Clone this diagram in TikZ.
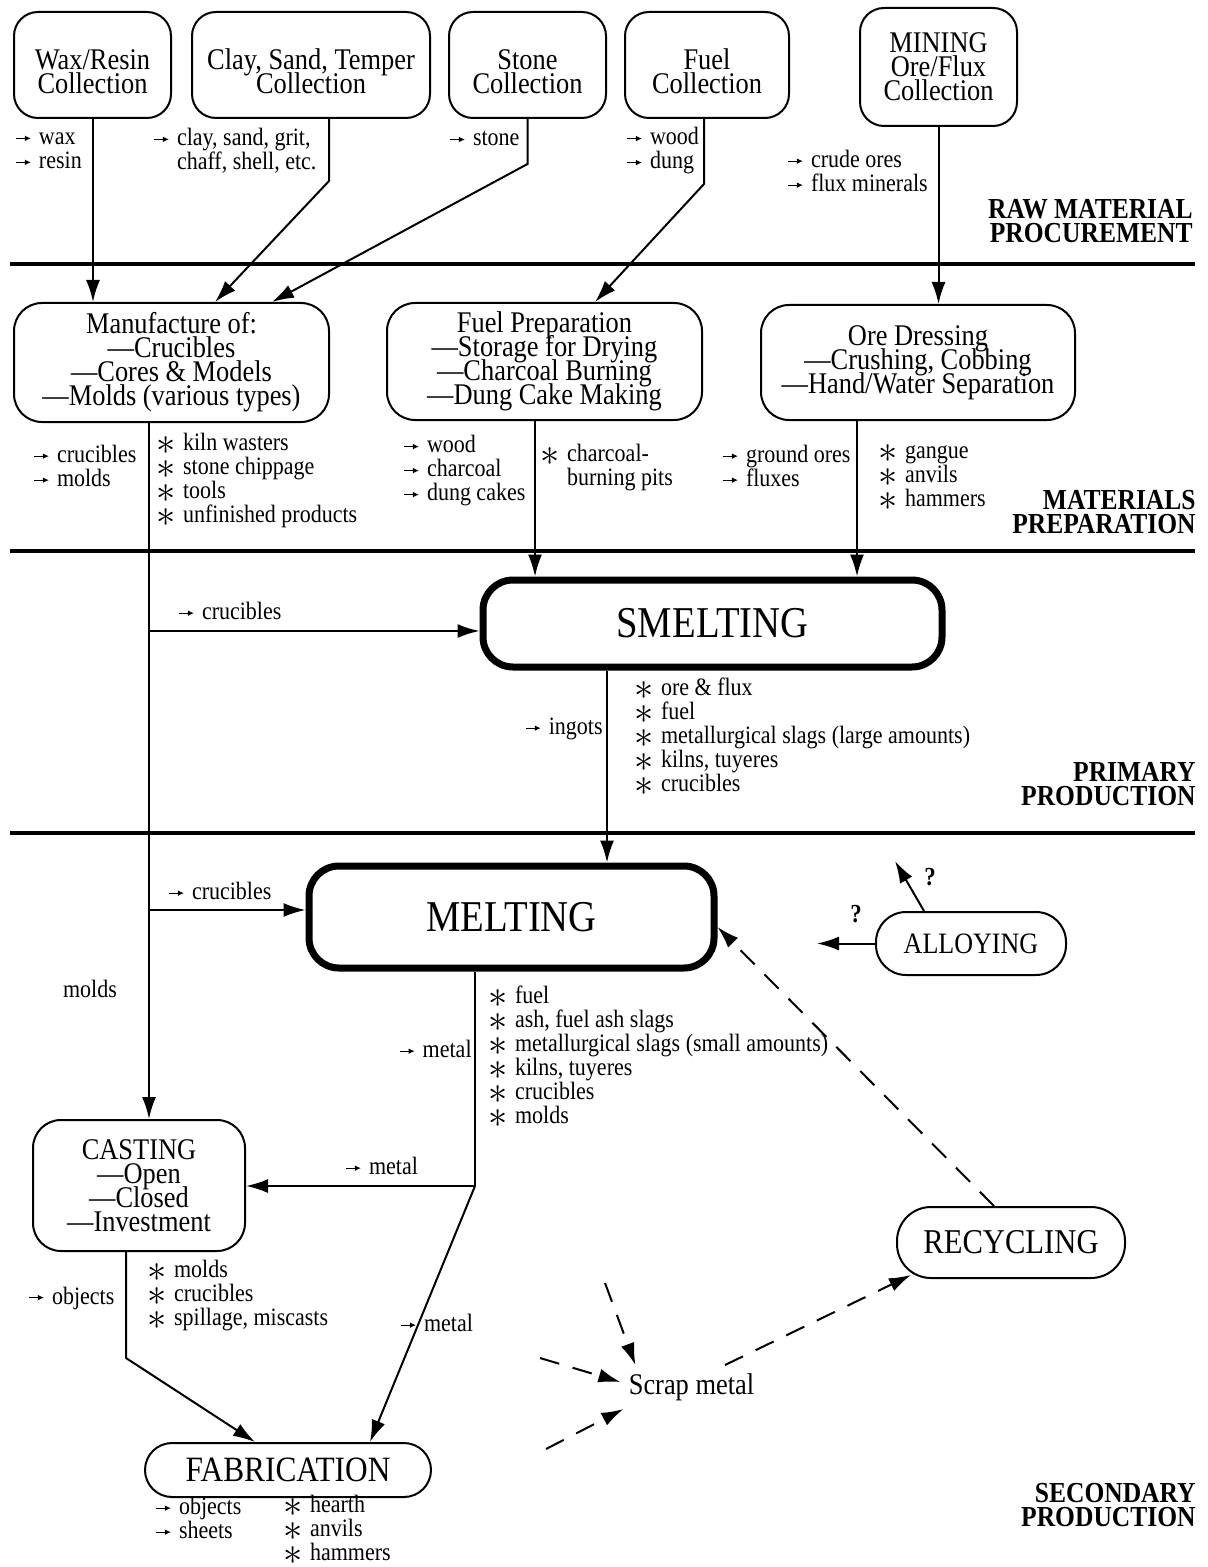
\documentclass[tikz,border=0pt]{standalone}
\usepackage{fontspec}
\setmainfont{Liberation Serif}[FakeStretch=0.88]
\usepackage{graphicx}
\usetikzlibrary{arrows.meta}
\newcommand\myarr{\tikz[baseline=0pt]\draw[line width=0.55pt,-{Latex[length=3pt,width=2.8pt]}] (0pt,3.2pt) -- (7.5pt,3.2pt);\hspace{0.3em}}
\newcommand\myast{\raisebox{-0.35ex}{\scalebox{1.6}{$\ast$}}\hspace{0.3em}}
\newcommand\smallf{\fontsize{12.5}{12}\selectfont}
\newcommand\boxf{\fontsize{15}{12}\selectfont}
\newcommand\bigf{\fontsize{22}{24}\selectfont}
\newcommand\labf{\fontsize{14.5}{12}\selectfont\bfseries}
\newcommand\topstrut{\rule{0pt}{16.5pt}}
\setlength\lineskiplimit{-40pt}
\setlength\lineskip{0pt}
\begin{document}
\begin{tikzpicture}[x=0.5pt,y=-0.5pt,
  box/.style={draw, line width=1pt, rounded corners=12pt, align=center, inner sep=0pt, font=\boxf},
  thickbox/.style={draw, line width=3.5pt, rounded corners=15pt, align=center, inner sep=0pt, font=\bigf},
  txt/.style={anchor=west, align=left, inner sep=0pt, font=\smallf},
  txtr/.style={anchor=east, align=right, inner sep=0pt, font=\smallf},
  stage/.style={anchor=east, align=right, inner sep=0pt, font=\labf},
  conn/.style={line width=1pt, -{Latex[length=11pt,width=7pt]}},
  plainline/.style={line width=1pt},
  dashconn/.style={conn, dash pattern=on 10pt off 7pt},
  rule/.style={line width=2.2pt}]
\useasboundingbox (0,0) rectangle (1208,1567);
\fill[white] (0,0) rectangle (1208,1567);

% rules
\draw[rule] (10,264) -- (1195,264);
\draw[rule] (10,551) -- (1195,551);
\draw[rule] (10,833) -- (1195,833);

% top boxes
\node[box, minimum width=78.5pt, minimum height=53pt] (wax) at (92.5,65) {\topstrut Wax/Resin\\Collection};
\node[box, minimum width=119pt, minimum height=53pt] (clay) at (311,65) {\topstrut Clay, Sand, Temper\\Collection};
\node[box, minimum width=78.5pt, minimum height=53pt] (stone) at (527.5,65) {\topstrut Stone\\Collection};
\node[box, minimum width=82pt, minimum height=53pt] (fuel) at (707,65) {\topstrut Fuel\\Collection};
\node[box, minimum width=78.5pt, minimum height=59pt] (mining) at (938.5,67) {MINING\\Ore/Flux\\Collection};

% middle boxes
\node[box, rounded corners=14pt, minimum width=157.5pt, minimum height=59.5pt] (manu) at (171.5,362.5) {Manufacture of:\\---Crucibles\\---Cores \& Models\\---Molds (various types)};
\node[box, rounded corners=14pt, minimum width=157.5pt, minimum height=58.5pt] (fuelprep) at (544.5,361.5) {Fuel Preparation\\---Storage for Drying\\---Charcoal Burning\\---Dung Cake Making};
\node[box, rounded corners=14pt, minimum width=157pt, minimum height=57.5pt] (ore) at (918,362.5) {Ore Dressing\\---Crushing, Cobbing\\---Hand/Water Separation};

% production boxes
\node[thickbox, minimum width=229.5pt, minimum height=43.5pt] (smelt) at (712.5,623.5) {SMELTING};
\node[thickbox, minimum width=202.5pt, minimum height=51pt] (melt) at (511.5,917) {MELTING};
\node[box, rounded corners=15pt, minimum width=95pt, minimum height=31.5pt, font=\fontsize{14.8}{12}\selectfont] (alloy) at (971,943.5) {ALLOYING};
\node[box, rounded corners=14pt, minimum width=106pt, minimum height=65.5pt] (casting) at (139,1185.5) {CASTING\\---Open\\---Closed\\---Investment};
\node[box, rounded corners=13.5pt, minimum width=143pt, minimum height=27pt, font=\fontsize{17.8}{12}\selectfont] (fab) at (288,1470) {FABRICATION};
\node[box, rounded corners=17pt, minimum width=114pt, minimum height=35.5pt, font=\fontsize{17.4}{12}\selectfont] (recyc) at (1011,1242.5) {RECYCLING};
\node[inner sep=4pt, font=\boxf] (scrap) at (691.5,1387) {Scrap metal};

% connectors: procurement -> preparation
\draw[conn] ([xshift=0.25pt]wax.south) -- ([xshift=-39.25pt]manu.north);
\draw[conn] ([xshift=9pt]clay.south) -- ++(0,62) -- ([xshift=21.75pt]manu.north);
\draw[conn] (stone.south) -- ++(0,45) -- ([xshift=50.25pt]manu.north);
\draw[conn] ([xshift=-1.5pt]fuel.south) -- ++(0,65) -- ([xshift=25.25pt]fuelprep.north);
\draw[conn] (mining.south) -- ([xshift=10.25pt]ore.north);

% preparation -> production
\draw[conn] ([xshift=-11.25pt]manu.south) -- ([xshift=5pt]casting.north);
\coordinate (j1) at (149,631);
\coordinate (j2) at (149,910);
\draw[conn] (j1) -- (j1 -| smelt.west);
\draw[conn] (j2) -- (j2 -| melt.west);
\draw[conn] ([xshift=-4.75pt]fuelprep.south) -- ([xshift=-88.75pt]smelt.north);
\draw[conn] ([xshift=-30.5pt]ore.south) -- ([xshift=72.25pt]smelt.north);
\draw[conn] ([xshift=-52.75pt]smelt.south) -- ([xshift=47.75pt]melt.north);

% melting -> casting / fabrication
\coordinate (j3) at (475,1186);
\draw[plainline] ([xshift=-18.25pt]melt.south) -- (j3);
\draw[conn] (j3) -- (j3 -| casting.east);
\draw[conn] (j3) -- ([xshift=41pt]fab.north);
\draw[conn] ([xshift=-6.5pt]casting.south) -- ++(0,106) -- ([xshift=-16.5pt]fab.north);

% alloying
\draw[conn] (alloy.west) -- ++(-58,0) coordinate (a1);
\draw[conn] ([xshift=-23.5pt]alloy.north) -- ++(-29,-50) coordinate (a2);
\node[inner sep=0pt, font=\fontsize{13}{12}\selectfont\bfseries] (q1) at (856,914) {?};
\node[inner sep=0pt, font=\fontsize{13}{12}\selectfont\bfseries] (q2) at (930,877) {?};

% recycling loop
\draw[dashconn] ([xshift=-8.5pt]recyc.north) -- ([yshift=-5pt]melt.east);
\draw[dashconn] ([xshift=16.75pt]scrap.north) -- ([xshift=7.5pt,yshift=2pt]recyc.south west);
\coordinate (s1) at (605,1283);
\coordinate (s2) at (540,1358);
\coordinate (s3) at (546,1449);
\draw[dashconn] (s1) -- ([xshift=7.5pt]scrap.north west);
\draw[dashconn] (s2) -- ([yshift=2.5pt]scrap.west);
\draw[dashconn] (s3) -- ([xshift=1.5pt]scrap.south west);

% labels
\node[txt] (t1) at (15,151) {\myarr wax\\\myarr resin};
\node[txt] (t2) at (153,151) {\myarr clay, sand, grit,\\\phantom{\myarr}chaff, shell, etc.};
\node[txt] (t3) at (449,139) {\myarr stone};
\node[txt] (t4) at (626,151) {\myarr wood\\\myarr dung};
\node[txt] (t5) at (787,171) {\myarr crude ores\\\myarr flux minerals};
\node[stage] (st1) at (1193,221) {RAW MATERIAL\\PROCUREMENT};

\node[txt] (t6) at (33,466) {\myarr crucibles\\\myarr molds};
\node[txt] (t7) at (156,480) {\myast kiln wasters\\\myast stone chippage\\\myast tools\\\myast unfinished products};
\node[txt] (t8) at (403,471) {\myarr wood\\\myarr charcoal\\\myarr dung cakes};
\node[txt] (t9) at (540,468) {\myast charcoal-\\\phantom{\myast}burning pits};
\node[txt] (t10) at (722,466) {\myarr ground ores\\\myarr fluxes};
\node[txt] (t11) at (878,478) {\myast gangue\\\myast anvils\\\myast hammers};
\node[stage] (st2) at (1196,512) {MATERIALS\\PREPARATION};

\node[txt] (t12) at (178,611) {\myarr crucibles};
\node[txtr] (t13) at (603,729) {\myarr ingots};
\node[txt] (t14) at (634,737) {\myast ore \& flux\\\myast fuel\\\myast metallurgical slags (large amounts)\\\myast kilns, tuyeres\\\myast crucibles};
\node[stage] (st3) at (1196,784) {PRIMARY\\PRODUCTION};

\node[txt] (t15) at (168,891) {\myarr crucibles};
\node[inner sep=0pt, font=\smallf] (t16) at (90,989) {molds};
\node[txtr] (t17) at (472,1049) {\myarr metal};
\node[txt] (t18) at (488,1057) {\myast fuel\\\myast ash, fuel ash slags\\\myast metallurgical slags (small amounts)\\\myast kilns, tuyeres\\\myast crucibles\\\myast molds};
\node[txt] (t19) at (345,1166) {\myarr metal};
\node[txt] (t20) at (400,1323) {\myarr metal};
\node[txt] (t21) at (28,1298) {\myarr objects};
\node[txt] (t22) at (147,1295.5) {\myast molds\\\myast crucibles\\\myast spillage, miscasts};
\node[txt] (t23) at (155,1518) {\myarr objects\\\myarr sheets};
\node[txt] (t24) at (283,1530) {\myast hearth\\\myast anvils\\\myast hammers};
\node[stage] (st4) at (1196,1505) {SECONDARY\\PRODUCTION};
\end{tikzpicture}
\end{document}
